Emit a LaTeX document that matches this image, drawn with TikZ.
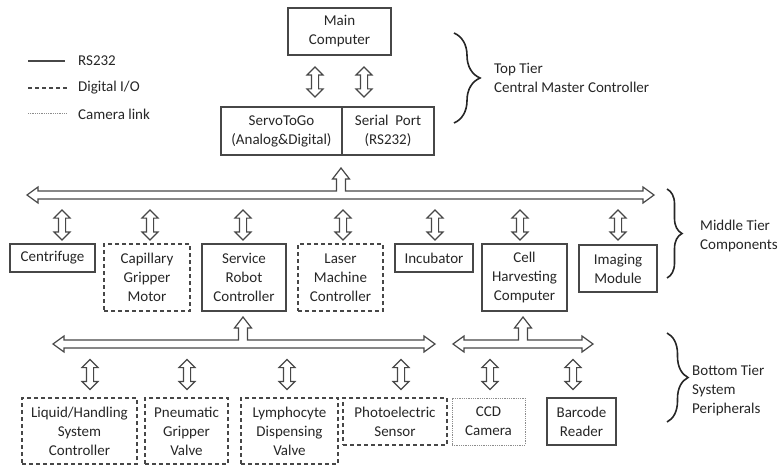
\documentclass[tikz,border=0pt]{standalone}
\usepackage{fontspec}
\setmainfont{Carlito}
\usepackage{tikz}
\usetikzlibrary{shapes.arrows,decorations.pathreplacing}

\definecolor{linec}{gray}{0.28}
\definecolor{textc}{gray}{0.15}

\tikzset{
  box/.style={draw=linec, line width=1.3pt, align=center, inner sep=1pt,
    text=textc, font=\fontsize{15}{19}\selectfont},
  dio/.style={box, dash pattern=on 4pt off 3pt},
  cam/.style={box, draw=black!45, line width=1pt, dash pattern=on 1pt off 0.8pt},
  vio/.style={double arrow, draw=linec, line width=1.1pt, fill=white, rotate=90,
    minimum height=30pt, minimum width=0pt, inner sep=0pt,
    text height=3pt, text depth=3pt, double arrow head extend=4.5pt},
  bus/.style={draw=linec, line width=1.2pt, fill=white},
  tier/.style={draw=black!85, line width=1.6pt, decorate,
    decoration={brace, amplitude=#1}},
  lbl/.style={anchor=west, align=left, inner sep=0pt, text=textc,
    font=\fontsize{15}{19}\selectfont}
}

\begin{document}
\begin{tikzpicture}[x=1pt, y=-1pt]
\useasboundingbox (0,0) rectangle (783,468);

% legend
\draw[linec, line width=1.3pt] (28,61) -- (65,61);
\draw[linec, line width=1.3pt, dash pattern=on 4pt off 3pt] (28,88) -- (67,88);
\draw[black!45, line width=1pt, dash pattern=on 1pt off 0.8pt] (28,113) -- (67,113);
\node[lbl] (lgrs) at (78,61) {RS232};
\node[lbl] (lgdio) at (78,88) {Digital I/O};
\node[lbl] (lgcam) at (78,114) {Camera link};

% top tier
\node[box, minimum width=103pt, minimum height=47pt] (main) at (339.5,31.5) {Main\\Computer};
\node[box, minimum width=121pt, minimum height=48pt] (servo) at (281.5,131) {ServoToGo\\(Analog\&Digital)};
\node[box, minimum width=92pt, minimum height=48pt] (serial) at (388,131) {Serial~~Port\\(RS232)};
\node[vio] (aservo) at (315,82) {};
\node[vio] (aserial) at (364,82) {};
\draw[tier=26] (454,33) -- (454,123);
\node[lbl] (ttop) at (494,77.5) {Top Tier\\Central Master Controller};

% main bus
\draw[bus] (27,195) -- (38,187) -- (38,191) -- (336.5,191) -- (336.5,179) -- (332.5,179)
  -- (341,168) -- (349.5,179) -- (345.5,179) -- (345.5,191) -- (643,191) -- (643,187)
  -- (654,195) -- (643,203) -- (643,199) -- (38,199) -- (38,203) -- cycle;

% middle tier
\node[box, minimum width=85pt, minimum height=28pt] (centri) at (52.5,258) {Centrifuge};
\node[dio, minimum width=86pt, minimum height=67pt] (capil) at (147,277.5) {Capillary\\Gripper\\Motor};
\node[box, minimum width=84pt, minimum height=67pt] (robot) at (244,277.5) {Service\\Robot\\Controller};
\node[dio, minimum width=85pt, minimum height=67pt] (laser) at (340.5,277.5) {Laser\\Machine\\Controller};
\node[box, minimum width=78pt, minimum height=28pt] (incub) at (434,258) {Incubator};
\node[box, minimum width=85pt, minimum height=67pt] (cell) at (524.5,277.5) {Cell\\Harvesting\\Computer};
\node[box, minimum width=78pt, minimum height=47pt] (imag) at (618,268.5) {Imaging\\Module};
\node[vio] (acentri) at (62,225) {};
\node[vio] (acapil) at (150,225) {};
\node[vio] (arobot) at (243,225) {};
\node[vio] (alaser) at (343,225) {};
\node[vio] (aincub) at (435,225) {};
\node[vio] (acell) at (520,225) {};
\node[vio] (aimag) at (618,225) {};
\draw[tier=15] (667,189) -- (667,278);
\node[lbl] (tmid) at (700,235.5) {Middle Tier\\Components};

% bottom buses
\draw[bus] (53,344) -- (64,336) -- (64,340) -- (238.5,340) -- (238.5,328) -- (234.5,328)
  -- (243,317) -- (251.5,328) -- (247.5,328) -- (247.5,340) -- (424,340) -- (424,336)
  -- (435,344) -- (424,352) -- (424,348) -- (64,348) -- (64,352) -- cycle;
\draw[bus] (453,344) -- (464,336) -- (464,340) -- (518.5,340) -- (518.5,328) -- (514.5,328)
  -- (523,317) -- (531.5,328) -- (527.5,328) -- (527.5,340) -- (582,340) -- (582,336)
  -- (593,344) -- (582,352) -- (582,348) -- (464,348) -- (464,352) -- cycle;

% bottom tier
\node[dio, minimum width=115pt, minimum height=66pt] (liquid) at (79.5,431) {Liquid/Handling\\System\\Controller};
\node[dio, minimum width=83pt, minimum height=66pt] (pneu) at (186.5,431) {Pneumatic\\Gripper\\Valve};
\node[dio, minimum width=97pt, minimum height=66pt] (lymph) at (289.5,431) {Lymphocyte\\Dispensing\\Valve};
\node[dio, minimum width=104pt, minimum height=47pt] (photo) at (395,421.5) {Photoelectric\\Sensor};
\node[cam, minimum width=73pt, minimum height=47pt] (ccd) at (488.5,421.5) {CCD\\Camera};
\node[box, minimum width=69pt, minimum height=47pt] (barcode) at (581.5,421.5) {Barcode\\Reader};
\node[vio] (aliquid) at (90,374.5) {};
\node[vio] (apneu) at (187,374.5) {};
\node[vio] (alymph) at (287,374.5) {};
\node[vio] (aphoto) at (401,374.5) {};
\node[vio] (accd) at (490,374.5) {};
\node[vio] (abarcode) at (573,374.5) {};
\draw[tier=21] (667,333) -- (667,422);
\node[lbl] (tbot) at (692,391) {Bottom Tier\\System\\Peripherals};
\end{tikzpicture}
\end{document}
